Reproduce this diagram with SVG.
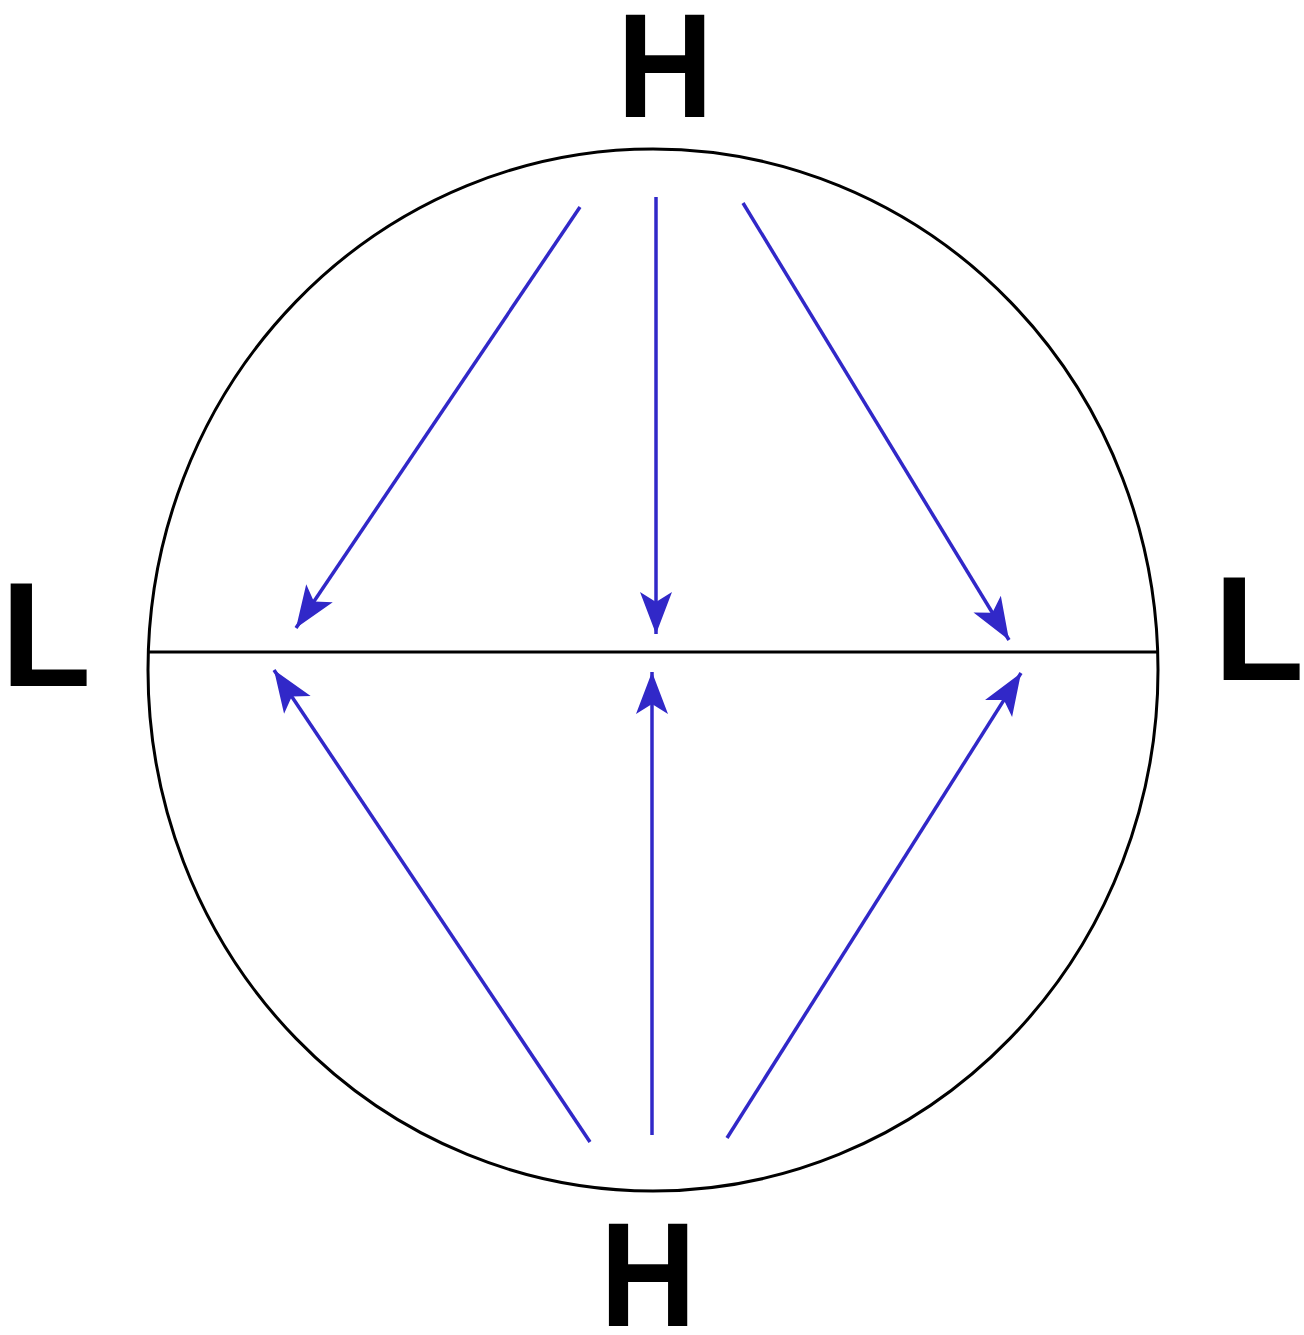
<svg xmlns="http://www.w3.org/2000/svg" width="1304" height="1335" viewBox="0 0 1304 1335">
<style>
.lbl{font-family:"Liberation Sans",Arial,sans-serif;font-weight:bold;font-size:148px;fill:#000;text-anchor:middle}
.arr{stroke:#3128c8;stroke-width:3.5;fill:none;marker-end:url(#ah)}
</style>
<defs>
<marker id="ah" markerUnits="userSpaceOnUse" viewBox="-44 -19 46 38" refX="0" refY="0" markerWidth="46" markerHeight="38" orient="auto">
<path d="M0,0 L-42,-16 L-32,0 L-42,16 Z" fill="#3128c8"/>
</marker>
</defs>
<rect width="1304" height="1335" fill="#fff"/>
<g id="globe">
<ellipse cx="653" cy="670" rx="505" ry="521" fill="none" stroke="#000" stroke-width="3"/>
<line x1="148" y1="652" x2="1158" y2="652" stroke="#000" stroke-width="3"/>
</g>
<g id="label-top"><text class="lbl" transform="translate(665 117) scale(0.9 1)" x="0" y="0">H</text></g>
<g id="label-bottom"><text class="lbl" transform="translate(648 1326) scale(0.9 1)" x="0" y="0">H</text></g>
<g id="label-left"><text class="lbl" x="46" y="686">L</text></g>
<g id="label-right"><text class="lbl" x="1259" y="680">L</text></g>
<g id="connectors">
<line class="arr" x1="580" y1="207" x2="296" y2="628"/>
<line class="arr" x1="656" y1="197" x2="656" y2="634"/>
<line class="arr" x1="743" y1="203" x2="1009" y2="640"/>
<line class="arr" x1="590" y1="1142" x2="274" y2="670"/>
<line class="arr" x1="652" y1="1135" x2="652" y2="672"/>
<line class="arr" x1="727" y1="1138" x2="1021" y2="673"/>
</g>
</svg>
